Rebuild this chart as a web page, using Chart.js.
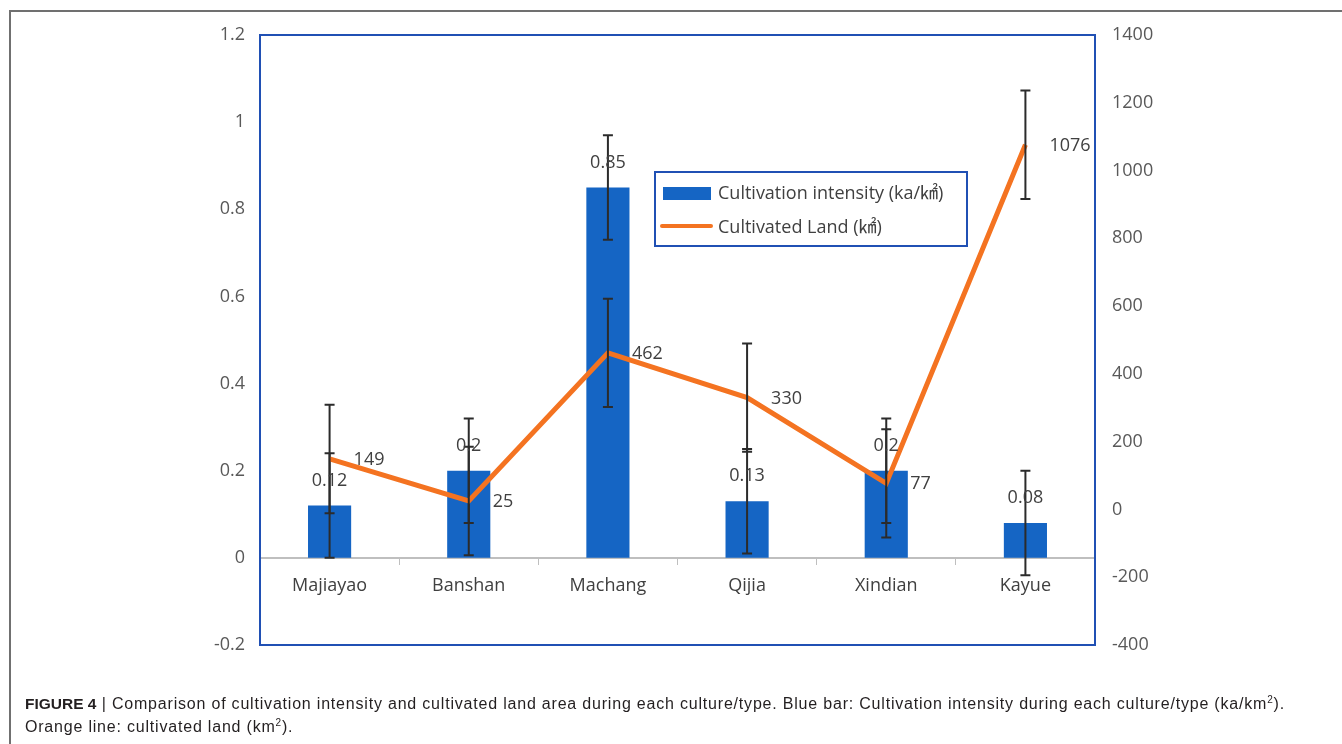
<!DOCTYPE html>
<html>
<head>
<meta charset="utf-8">
<script src="https://cdn.jsdelivr.net/npm/chart.js@4/dist/chart.umd.min.js"></script>
<style>
  body { margin: 0; background: #fff; }
  #wrap { position: relative; width: 1342px; height: 744px; overflow: hidden; }
  #frame { position: absolute; left: 9px; top: 10px; right: -5px; bottom: -5px;
           border-top: 2px solid #707070; border-left: 2px solid #707070; }
  #myChart { position: absolute; left: 0; top: 0; }
  #caption { position: absolute; left: 25px; top: 692px; width: 1310px; white-space: nowrap;
             font-family: 'Liberation Sans', Arial, sans-serif; font-size: 16px; letter-spacing: 0.8px;
             line-height: 23px; color: #231f20; }
  #caption b { font-weight: bold; font-size: 15.5px; letter-spacing: 0; }
  #caption sup { font-size: 10px; line-height: 0; }
</style>
</head>
<body>
<div id="wrap">
  <div id="frame"></div>
  <canvas id="myChart" width="1342" height="744"></canvas>
  <div id="caption"><b>FIGURE 4</b> | Comparison of cultivation intensity and cultivated land area during each culture/type. Blue bar: Cultivation intensity during each culture/type (ka/km<sup>2</sup>).<br>Orange line: cultivated land (km<sup>2</sup>).</div>
</div>
<script>
//---------------------------------------------------------------------------
// data
const categories = ['Majiayao', 'Banshan', 'Machang', 'Qijia', 'Xindian', 'Kayue'];
const intensity = [0.12, 0.2, 0.85, 0.13, 0.2, 0.08];
const intensityErr = [0.12, 0.12, 0.12, 0.12, 0.12, 0.12];
const land = [149, 25, 462, 330, 77, 1076];
const landErr = [160, 160, 160, 160, 160, 160];
const leftTicks = [-0.2, 1.2, 0.2];    // min, max, step
const rightTicks = [-400, 1400, 200];
//---------------------------------------------------------------------------
const BLUE = '#1565c4';
const ORANGE = '#f47321';
const FONT = "'Open Sans', 'Noto Sans CJK SC', sans-serif";

// error bars, drawn right after each dataset
const errorBars = {
    id: 'errorBars',
    afterDatasetDraw(chart, args) {
        const ds = chart.data.datasets[args.index];
        if (!ds.errors) return;
        const yScale = chart.scales[ds.yAxisID];
        const meta = args.meta;
        const ctx = chart.ctx;
        ctx.save();
        ctx.strokeStyle = '#2b2b2b';
        ctx.lineWidth = 2;
        meta.data.forEach((el, i) => {
            const x = el.x;
            const top = yScale.getPixelForValue(ds.data[i] + ds.errors[i]);
            const bot = yScale.getPixelForValue(ds.data[i] - ds.errors[i]);
            ctx.beginPath();
            ctx.moveTo(x, top); ctx.lineTo(x, bot);
            ctx.moveTo(x - 5, top); ctx.lineTo(x + 5, top);
            ctx.moveTo(x - 5, bot); ctx.lineTo(x + 5, bot);
            ctx.stroke();
        });
        ctx.restore();
    }
};

// plot border, value labels and the boxed legend
const decorations = {
    id: 'decorations',
    beforeDatasetsDraw(chart) {
        const { ctx, chartArea: a } = chart;
        ctx.save();
        ctx.strokeStyle = '#2050b4';
        ctx.lineWidth = 2;
        ctx.strokeRect(a.left, a.top, a.right - a.left, a.bottom - a.top);
        ctx.restore();
    },
    afterDatasetsDraw(chart) {
        const { ctx, chartArea: a } = chart;
        ctx.save();
        ctx.font = '18px ' + FONT;
        ctx.fillStyle = '#404040';
        // bar labels
        const barMeta = chart.getDatasetMeta(0);
        ctx.textAlign = 'center';
        ctx.textBaseline = 'middle';
        barMeta.data.forEach((el, i) => {
            ctx.fillText(String(intensity[i]), el.x, el.y - 25);
        });
        // line labels
        const lineMeta = chart.getDatasetMeta(1);
        ctx.textAlign = 'left';
        lineMeta.data.forEach((el, i) => {
            ctx.fillText(String(land[i]), el.x + 24, el.y + 1);
        });

        // legend box
        const lx = a.left + 395, ly = a.top + 137;
        ctx.strokeStyle = '#2050b4';
        ctx.lineWidth = 2;
        ctx.fillStyle = '#fff';
        ctx.fillRect(lx, ly, 312, 74);
        ctx.strokeRect(lx, ly, 312, 74);
        ctx.fillStyle = BLUE;
        ctx.fillRect(lx + 8, ly + 15, 48, 13);
        ctx.strokeStyle = ORANGE;
        ctx.lineWidth = 4;
        ctx.lineCap = 'round';
        ctx.beginPath();
        ctx.moveTo(lx + 7, ly + 54); ctx.lineTo(lx + 56, ly + 54);
        ctx.stroke();
        ctx.fillStyle = '#404040';
        ctx.textAlign = 'left';
        ctx.fillText(chart.data.datasets[0].label, lx + 63, ly + 22);
        ctx.fillText(chart.data.datasets[1].label, lx + 63, ly + 56);
        ctx.restore();
    }
};

const ctx = document.getElementById('myChart');
new Chart(ctx, {
    type: 'bar',
    data: {
        labels: categories,
        datasets: [{
            type: 'bar',
            label: 'Cultivation intensity (ka/㎢)',
            data: intensity,
            errors: intensityErr,
            backgroundColor: BLUE,
            yAxisID: 'y',
            barPercentage: 0.31,
            categoryPercentage: 1,
            order: 1
        }, {
            type: 'line',
            label: 'Cultivated Land (㎢)',
            data: land,
            errors: landErr,
            borderColor: ORANGE,
            borderWidth: 5,
            pointRadius: 0,
            tension: 0,
            fill: false,
            yAxisID: 'y1',
            order: 0
        }]
    },
    options: {
        responsive: false,
        animation: false,
        layout: { padding: { top: 35, bottom: 99, left: 0, right: 0 } },
        plugins: {
            legend: { display: false },
            tooltip: { enabled: false }
        },
        scales: {
            x: {
                position: { y: 0 },
                offset: true,
                grid: { drawOnChartArea: false, drawTicks: true, tickLength: 6, color: '#bfbfbf', offset: true },
                border: { color: '#bfbfbf', width: 2 },
                ticks: { font: { family: FONT, size: 18 }, color: '#404040', padding: 11 },
                afterFit: (s) => { s.height = 0; }
            },
            y: {
                position: 'left',
                min: leftTicks[0], max: leftTicks[1],
                ticks: {
                    stepSize: leftTicks[2],
                    font: { family: FONT, size: 18 }, color: '#595959', padding: 15,
                    callback: (v) => String(Number(v.toFixed(1)))
                },
                grid: { display: false, drawTicks: false },
                border: { display: false },
                afterFit: (s) => { s.width = 260; }
            },
            y1: {
                position: 'right',
                min: rightTicks[0], max: rightTicks[1],
                ticks: {
                    stepSize: rightTicks[2],
                    font: { family: FONT, size: 18 }, color: '#595959', padding: 17,
                    callback: (v) => String(Math.round(v))
                },
                grid: { display: false, drawTicks: false },
                border: { display: false },
                afterFit: (s) => { s.width = 247; }
            }
        }
    },
    plugins: [errorBars, decorations]
});
</script>
</body>
</html>
